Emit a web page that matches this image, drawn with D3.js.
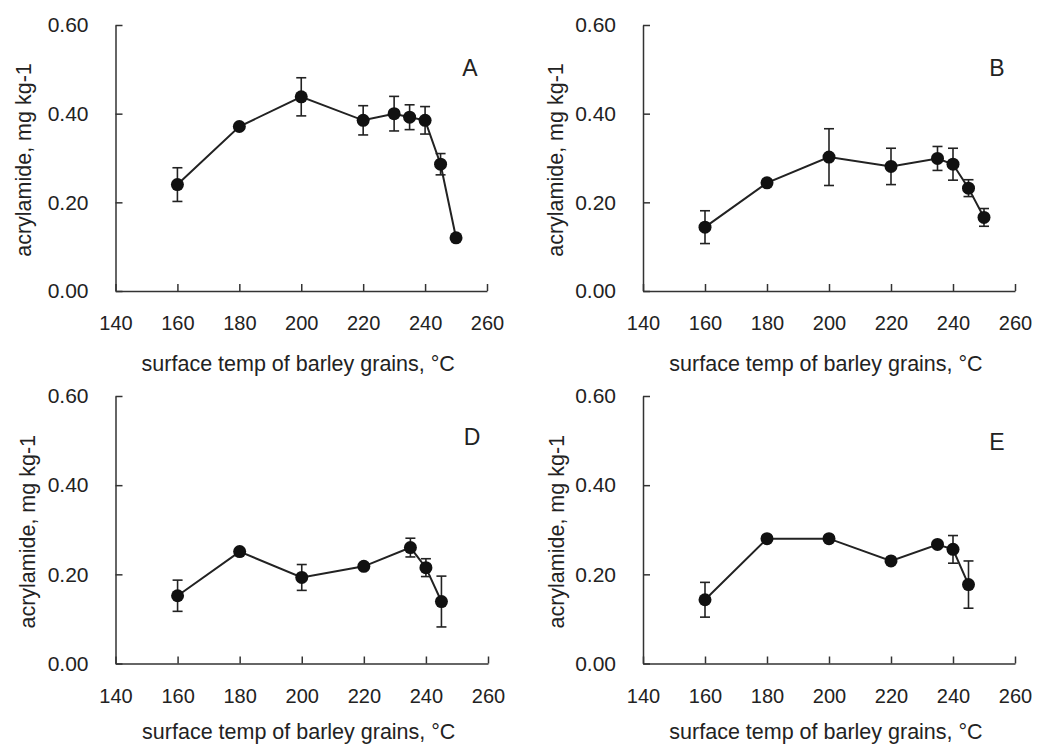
<!DOCTYPE html>
<html>
<head>
<meta charset="utf-8">
<script src="https://cdn.jsdelivr.net/npm/d3@7/dist/d3.min.js"></script>
<style>
  body { margin: 0; background: #fff; }
  svg { display: block; font-family: 'Liberation Sans', Arial, sans-serif; }
  .axis path, .axis line { stroke: #333; stroke-width: 1.5; }
  .axis text { font-size: 20px; fill: #222; font-family: 'Liberation Sans', Arial, sans-serif; }
  .y.axis text { font-size: 21px; }
  .title { font-size: 21.5px; fill: #222; }
  .letter { font-size: 23px; fill: #222; }
</style>
</head>
<body>
<div id="chart"></div>
<script>
// data
const xTicks = [140, 160, 180, 200, 220, 240, 260];
const yTicks = [0, 0.2, 0.4, 0.6];

const tempsA = [160, 180, 200, 220, 230, 235, 240, 245, 250];
const valuesA = [0.240, 0.371, 0.438, 0.385, 0.400, 0.392, 0.385, 0.286, 0.120];
const errorsA = [0.038, 0.006, 0.043, 0.033, 0.039, 0.028, 0.031, 0.024, 0.007];

const tempsB = [160, 180, 200, 220, 235, 240, 245, 250];
const valuesB = [0.144, 0.244, 0.302, 0.281, 0.299, 0.286, 0.232, 0.166];
const errorsB = [0.037, 0.005, 0.064, 0.041, 0.027, 0.036, 0.019, 0.020];

const tempsD = [160, 180, 200, 220, 235, 240, 245];
const valuesD = [0.152, 0.251, 0.193, 0.218, 0.260, 0.215, 0.139];
const errorsD = [0.035, 0.004, 0.029, 0.004, 0.021, 0.020, 0.057];

const tempsE = [160, 180, 200, 220, 235, 240, 245];
const valuesE = [0.143, 0.280, 0.280, 0.230, 0.267, 0.256, 0.177];
const errorsE = [0.039, 0.006, 0.004, 0.004, 0.004, 0.031, 0.053];

const panelNames = ['A', 'B', 'D', 'E'];

const W = 1038, H = 746;
const svg = d3.select('#chart').append('svg')
  .attr('width', W)
  .attr('height', H);

// layout of the four panels (pixel boxes)
const layout = {
  A: { x0: 115.5, x1: 487, y0: 291, y1: 25, titleX: 23, lx: 470, ly: 68 },
  B: { x0: 643, x1: 1015, y0: 291, y1: 25, titleX: 555, lx: 997, ly: 68 },
  D: { x0: 115.5, x1: 488, y0: 663.5, y1: 396, titleX: 27, lx: 472, ly: 437 },
  E: { x0: 643, x1: 1015, y0: 663.5, y1: 396, titleX: 556, lx: 997, ly: 442 }
};

const series = {
  A: { t: tempsA, v: valuesA, e: errorsA },
  B: { t: tempsB, v: valuesB, e: errorsB },
  D: { t: tempsD, v: valuesD, e: errorsD },
  E: { t: tempsE, v: valuesE, e: errorsE }
};

panelNames.forEach(function(name) {
  const L = layout[name];
  const s = series[name];
  const rows = s.t.map(function(t, i) { return { t: t, v: s.v[i], e: s.e[i] }; });

  const xScale = d3.scaleLinear().domain([140, 260]).range([L.x0, L.x1]);
  const yScale = d3.scaleLinear().domain([0, 0.6]).range([L.y0, L.y1]);

  const g = svg.append('g');

  // x-axis (ticks pointing inward)
  g.append('g')
    .attr('class', 'x axis')
    .attr('transform', `translate(0, ${ L.y0 })`)
    .call(d3.axisBottom(xScale).tickValues(xTicks).tickSizeInner(-7).tickSizeOuter(0).tickPadding(25))
    .call(function(a) { a.select('.domain').attr('fill', 'none'); });

  // y-axis
  g.append('g')
    .attr('class', 'y axis')
    .attr('transform', `translate(${ L.x0 }, 0)`)
    .call(d3.axisLeft(yScale).tickValues(yTicks).tickFormat(d3.format('.2f'))
      .tickSizeInner(-7).tickSizeOuter(0).tickPadding(27))
    .call(function(a) { a.select('.domain').attr('fill', 'none'); });

  // x-axis title (kept inside the bottom edge)
  g.append('text')
    .attr('class', 'title')
    .attr('x', (L.x0 + L.x1) / 2 - 3)
    .attr('y', Math.min(L.y0 + 80, H - 7))
    .style('text-anchor', 'middle')
    .text('surface temp of barley grains, °C');

  // y-axis title
  g.append('text')
    .attr('class', 'title')
    .attr('transform', `translate(${ L.titleX + 8 }, ${ (L.y0 + L.y1) / 2 + 2 }) rotate(-90)`)
    .style('text-anchor', 'middle')
    .text('acrylamide, mg kg-1');

  // panel letter
  g.append('text')
    .attr('class', 'letter')
    .attr('x', L.lx)
    .attr('y', L.ly + 8)
    .style('text-anchor', 'middle')
    .text(name);

  // connecting line
  const line = d3.line()
    .x(function(d) { return xScale(d.t); })
    .y(function(d) { return yScale(d.v); });

  g.append('path')
    .datum(rows)
    .attr('d', line)
    .attr('fill', 'none')
    .attr('stroke', '#222')
    .attr('stroke-width', 2);

  // error bars
  const err = g.selectAll('.err')
    .data(rows)
    .enter()
    .append('g')
    .attr('class', 'err')
    .attr('stroke', '#222')
    .attr('stroke-width', 1.6);

  err.append('line')
    .attr('x1', function(d) { return xScale(d.t); })
    .attr('x2', function(d) { return xScale(d.t); })
    .attr('y1', function(d) { return yScale(d.v - d.e); })
    .attr('y2', function(d) { return yScale(d.v + d.e); });

  [-1, 1].forEach(function(sign) {
    err.append('line')
      .attr('x1', function(d) { return xScale(d.t) - 5; })
      .attr('x2', function(d) { return xScale(d.t) + 5; })
      .attr('y1', function(d) { return yScale(d.v + sign * d.e); })
      .attr('y2', function(d) { return yScale(d.v + sign * d.e); });
  });

  // markers
  g.selectAll('circle')
    .data(rows)
    .enter()
    .append('circle')
      .attr('cx', function(d) { return xScale(d.t); })
      .attr('cy', function(d) { return yScale(d.v); })
      .attr('r', 6.5)
      .style('fill', '#111');
});
</script>
</body>
</html>
